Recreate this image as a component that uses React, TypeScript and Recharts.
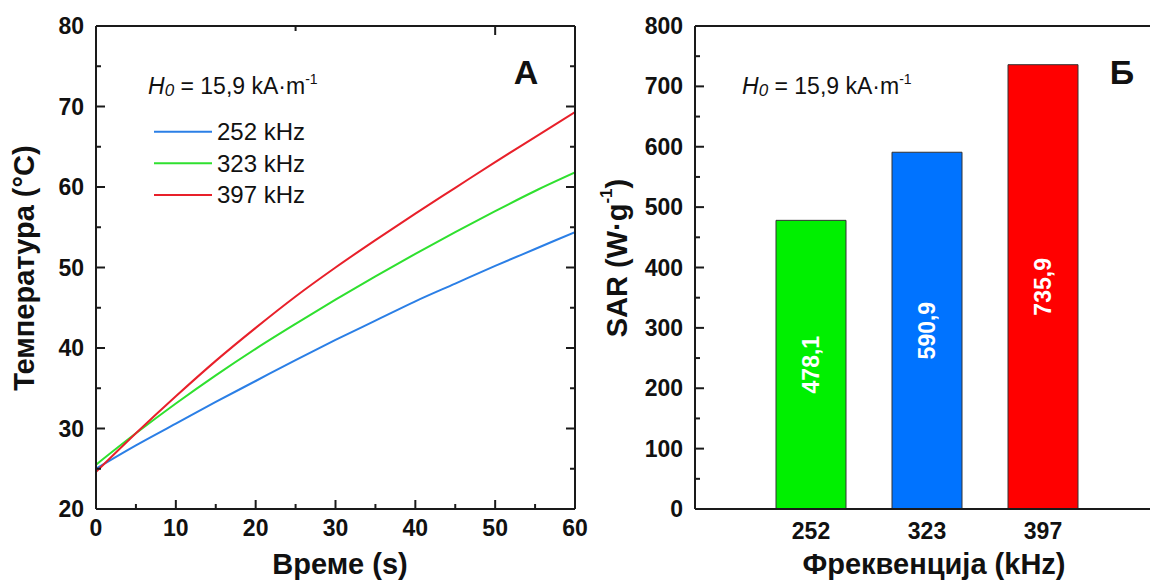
import React from 'react';
import { LineChart, Line, BarChart, Bar, Cell, XAxis, YAxis } from 'recharts';

// Heating curves, panel A
const timeS = [0, 5, 10, 15, 20, 25, 30, 35, 40, 45, 50, 55, 60];
const temp252 = [25.0, 27.9, 30.6, 33.3, 35.9, 38.5, 41.0, 43.4, 45.8, 48.0, 50.2, 52.3, 54.4];
const temp323 = [25.5, 29.4, 33.1, 36.6, 39.9, 43.0, 46.0, 48.9, 51.7, 54.4, 57.0, 59.5, 61.8];
const temp397 = [24.6, 29.4, 34.0, 38.4, 42.5, 46.4, 50.0, 53.4, 56.7, 59.9, 63.1, 66.2, 69.3];

// SAR bars, panel Б
const freqLabels = ['252', '323', '397'];
const sarValues = [478.1, 590.9, 735.9];

const timeTicks = [0, 5, 10, 15, 20, 25, 30, 35, 40, 45, 50, 55, 60];
const tempTicks = [20, 25, 30, 35, 40, 45, 50, 55, 60, 65, 70, 75, 80];
const sarTicks = [0, 50, 100, 150, 200, 250, 300, 350, 400, 450, 500, 550, 600, 650, 700, 750, 800];

const seriesNames = ['252 kHz', '323 kHz', '397 kHz'];
const lineColors = ['#2b7fe6', '#2fe02f', '#e8202a'];
const barColors = ['#00f000', '#0073ff', '#ff0000'];

const FONT = '"Liberation Sans", Arial, sans-serif';
const AXIS = '#1a1a1a';

const lineData = timeS.map((t, i) => ({ t, f252: temp252[i], f323: temp323[i], f397: temp397[i] }));
const barData = freqLabels.map((freq, i) => ({ freq, sar: sarValues[i] }));

const axisLine = { stroke: AXIS, strokeWidth: 2 };

// ticks point inward, labels only on major ticks
function makeTick(side: 'bottom' | 'top' | 'left' | 'right', step: number, showLabel: boolean) {
  return (p: any) => {
    const { x, y, payload } = p;
    const v = payload.value;
    const major = Math.abs(v % step) < 1e-6;
    const len = major ? 9 : 5;
    let line;
    if (side === 'bottom') line = <line x1={x} y1={y} x2={x} y2={y - len} stroke={AXIS} strokeWidth={2} />;
    else if (side === 'top') line = <line x1={x} y1={y} x2={x} y2={y + len} stroke={AXIS} strokeWidth={2} />;
    else if (side === 'left') line = <line x1={x} y1={y} x2={x + len} y2={y} stroke={AXIS} strokeWidth={2} />;
    else line = <line x1={x} y1={y} x2={x - len} y2={y} stroke={AXIS} strokeWidth={2} />;
    let label = null;
    if (showLabel && major) {
      if (side === 'bottom')
        label = <text x={x} y={y + 27} textAnchor="middle" fontSize={23} fontWeight="bold" fontFamily={FONT} fill="#111">{v}</text>;
      if (side === 'left')
        label = <text x={x - 12} y={y + 8} textAnchor="end" fontSize={23} fontWeight="bold" fontFamily={FONT} fill="#111">{v}</text>;
    }
    return <g>{line}{label}</g>;
  };
}

const catTick = (p: any) => (
  <text x={p.x} y={p.y + 30} textAnchor="middle" fontSize={23} fontWeight="bold" fontFamily={FONT} fill="#111">
    {p.payload.value}
  </text>
);

const barLabel = (p: any) => {
  const vb = p.viewBox || p;
  const cx = vb.x + vb.width / 2;
  const cy = vb.y + vb.height / 2;
  return (
    <text transform={`translate(${cx},${cy}) rotate(-90)`} textAnchor="middle" dominantBaseline="central"
      fontSize={23} fontWeight="bold" fontFamily={FONT} fill="#fff">
      {String(p.value).replace('.', ',')}
    </text>
  );
};

function FieldNote({ x }: { x: number }) {
  return (
    <text x={x} y={94} fontSize={23} fontFamily={FONT} fill="#111">
      <tspan fontStyle="italic">H</tspan>
      <tspan fontStyle="italic" fontSize={17} dy={2}>0</tspan>
      <tspan dy={-2}> = 15,9 kA·m</tspan>
      <tspan fontSize={14} dy={-10}>-1</tspan>
    </text>
  );
}

export default function App() {
  return (
    <div style={{ position: 'absolute', left: 0, top: 0, width: 1150, height: 580, overflow: 'hidden', background: '#fff' }}>
      <div style={{ position: 'absolute', left: 0, top: 0 }}>
        <LineChart width={600} height={580} data={lineData} margin={{ top: 25, right: 24, bottom: 70, left: 95 }}>
          <XAxis dataKey="t" type="number" domain={[0, 60]} ticks={timeTicks} interval={0} allowDataOverflow
            height={1} tickSize={0} tickMargin={0} tickLine={false} axisLine={axisLine} tick={makeTick('bottom', 10, true)} />
          <XAxis xAxisId="top" orientation="top" type="number" domain={[0, 60]} ticks={timeTicks} interval={0} allowDataOverflow
            height={1} tickSize={0} tickMargin={0} tickLine={false} axisLine={axisLine} tick={makeTick('top', 10, false)} />
          <YAxis type="number" domain={[20, 80]} ticks={tempTicks} interval={0} allowDataOverflow
            width={1} tickSize={0} tickMargin={0} tickLine={false} axisLine={axisLine} tick={makeTick('left', 10, true)} />
          <YAxis yAxisId="right" orientation="right" type="number" domain={[20, 80]} ticks={tempTicks} interval={0} allowDataOverflow
            width={1} tickSize={0} tickMargin={0} tickLine={false} axisLine={axisLine} tick={makeTick('right', 10, false)} />
          <Line type="monotone" dataKey="f252" name={seriesNames[0]} stroke={lineColors[0]} strokeWidth={2} dot={false} isAnimationActive={false} />
          <Line type="monotone" dataKey="f323" name={seriesNames[1]} stroke={lineColors[1]} strokeWidth={2} dot={false} isAnimationActive={false} />
          <Line type="monotone" dataKey="f397" name={seriesNames[2]} stroke={lineColors[2]} strokeWidth={2} dot={false} isAnimationActive={false} />
        </LineChart>
      </div>
      <div style={{ position: 'absolute', left: 590, top: 0 }}>
        <BarChart width={580} height={580} data={barData} margin={{ top: 25, right: 11, bottom: 70, left: 104 }}>
          <XAxis dataKey="freq" padding={{ left: 58, right: 58 }} interval={0}
            height={1} tickSize={0} tickMargin={0} tickLine={false} axisLine={axisLine} tick={catTick} />
          <XAxis xAxisId="top" orientation="top" dataKey="freq" padding={{ left: 58, right: 58 }}
            height={1} tickLine={false} axisLine={axisLine} tick={false} />
          <YAxis type="number" domain={[0, 800]} ticks={sarTicks} interval={0} allowDataOverflow
            width={1} tickSize={0} tickMargin={0} tickLine={false} axisLine={axisLine} tick={makeTick('left', 100, true)} />
          <Bar dataKey="sar" barSize={70} stroke="#333" strokeWidth={1} label={barLabel} isAnimationActive={false}>
            {barData.map((d, i) => (
              <Cell key={d.freq} fill={barColors[i]} />
            ))}
          </Bar>
        </BarChart>
      </div>
      <svg width={1150} height={580} style={{ position: 'absolute', left: 0, top: 0, pointerEvents: 'none' }}>
        <text transform="translate(24,268) rotate(-90)" textAnchor="middle" dominantBaseline="central"
          fontSize={29} fontWeight="bold" fontFamily={FONT} fill="#111">Температура (°C)</text>
        <text x={340} y={574} textAnchor="middle" fontSize={29} fontWeight="bold" fontFamily={FONT} fill="#111">Време (s)</text>
        <text x={526} y={84} textAnchor="middle" fontSize={34} fontWeight="bold" fontFamily={FONT} fill="#111">А</text>
        <FieldNote x={148} />
        {seriesNames.map((name, i) => (
          <g key={name}>
            <line x1={154} x2={212} y1={131.7 + i * 31.6} y2={131.7 + i * 31.6} stroke={lineColors[i]} strokeWidth={2} />
            <text x={217} y={140 + i * 31.6} fontSize={24} fontFamily={FONT} fill="#111">{name}</text>
          </g>
        ))}
        <text transform="translate(617,258) rotate(-90)" textAnchor="middle" dominantBaseline="central"
          fontSize={29} fontWeight="bold" fontFamily={FONT} fill="#111">
          SAR (W·g<tspan fontSize={17} dy={-11}>-1</tspan><tspan dy={11}>)</tspan>
        </text>
        <text x={934} y={574} textAnchor="middle" fontSize={29} fontWeight="bold" fontFamily={FONT} fill="#111">Фреквенција (kHz)</text>
        <text x={1122} y={84} textAnchor="middle" fontSize={34} fontWeight="bold" fontFamily={FONT} fill="#111">Б</text>
        <FieldNote x={742} />
      </svg>
    </div>
  );
}
